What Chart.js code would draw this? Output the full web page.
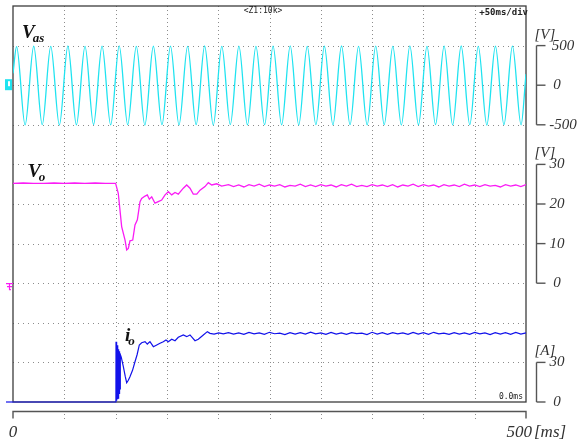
<!DOCTYPE html>
<html>
<head>
<meta charset="utf-8">
<script src="https://cdn.jsdelivr.net/npm/chart.js@4.4.1/dist/chart.umd.min.js"></script>
<style>
  html, body { margin: 0; padding: 0; background: #fff; }
  #scope { display: block; }
</style>
</head>
<body>
<canvas id="scope" width="577" height="441"></canvas>
<script>
// grid: 10 x 10 divisions, 50 ms/div
const xGridTicks = [0, 50, 100, 150, 200, 250, 300, 350, 400, 450, 500];
const divTicks   = [0, 1, 2, 3, 4, 5, 6, 7, 8, 9, 10];

// right-hand bracket scales
const vasTicks = [500, 0, -500];
const voTicks  = [30, 20, 10, 0];
const ioTicks  = [30, 0];

// supply voltage Vas [V] - peaks and troughs of the 60 Hz wave
const vasT = [0,
  3.5, 11.8, 20.2, 28.5, 36.8, 45.2, 53.5, 61.8, 70.2, 78.5,
  86.8, 95.2, 103.5, 111.8, 120.2, 128.5, 136.8, 145.2, 153.5, 161.8,
  170.2, 178.5, 186.8, 195.2, 203.5, 211.8, 220.2, 228.5, 236.8, 245.2,
  253.5, 261.8, 270.2, 278.5, 286.8, 295.2, 303.5, 311.8, 320.2, 328.5,
  336.8, 345.2, 353.5, 361.8, 370.2, 378.5, 386.8, 395.2, 403.5, 411.8,
  420.2, 428.5, 436.8, 445.2, 453.5, 461.8, 470.2, 478.5, 486.8, 495.2,
  500];
const vasV = [150,
  488, -502, 492, -498, 490, -503, 495, -500, 489, -497,
  493, -502, 496, -499, 490, -504, 492, -498, 494, -501,
  489, -499, 495, -503, 491, -497, 494, -502, 490, -499,
  493, -500, 496, -503, 489, -498, 492, -501, 495, -499,
  490, -502, 494, -498, 491, -503, 496, -500, 489, -497,
  493, -501, 495, -499, 490, -503, 492, -498, 494, -500,
  140];

// output voltage Vo [V]
const voPreT = [0, 10, 20, 30, 40, 50, 60, 70, 80, 90, 100];
const voPreV = [25.2, 25.3, 25.2, 25.2, 25.3, 25.2, 25.3, 25.2, 25.3, 25.2, 25.2];
const voDipT = [102.6, 105.9, 109.2, 110.8, 112.4, 114.0, 116.7, 118.9, 121.2, 123.8,
  125.4, 128.7, 130.9, 132.9, 135.2, 138.4, 141.6, 144.9, 148.2, 151.4,
  154.7, 157.9, 161.1, 166.0, 169.3, 172.5, 175.7, 179.1, 182.3, 187.1,
  190.4, 193.7, 198.5, 203.4];
const voDipV = [22.7, 14.3, 10.9, 8.4, 8.8, 10.7, 10.9, 14.7, 16.0, 20.6,
  21.4, 22.0, 22.3, 21.2, 21.8, 20.2, 20.6, 21.0, 22.3, 23.1,
  22.3, 22.9, 22.5, 24.0, 24.8, 24.0, 22.5, 22.5, 23.5, 24.4,
  25.4, 24.8, 25.1, 24.5];

// steady-state sample times shared by Vo and io
const steadyT = [210, 215, 220, 225, 230, 235, 240, 245, 250, 255,
  260, 265, 270, 275, 280, 285, 290, 295, 300, 305,
  310, 315, 320, 325, 330, 335, 340, 345, 350, 355,
  360, 365, 370, 375, 380, 385, 390, 395, 400, 405,
  410, 415, 420, 425, 430, 435, 440, 445, 450, 455,
  460, 465, 470, 475, 480, 485, 490, 495, 500];
const voSteadyV = [24.9, 24.4, 24.8, 24.3, 24.9, 24.5, 25.0, 24.4, 24.8, 24.5,
  24.9, 24.3, 24.7, 24.5, 25.0, 24.4, 24.8, 24.4, 24.9, 24.5,
  24.8, 24.3, 24.9, 24.5, 25.0, 24.4, 24.7, 24.4, 24.9, 24.5,
  24.8, 24.4, 24.9, 24.3, 24.8, 24.5, 25.0, 24.4, 24.9, 24.5,
  24.8, 24.3, 24.9, 24.5, 24.8, 24.4, 25.0, 24.5, 24.8, 24.4,
  24.9, 24.5, 24.7, 24.3, 24.9, 24.5, 24.8, 24.4, 24.9];

// output current io [A]
const ioStepT = [0, 100.3,
  100.4, 100.7, 101.0, 101.3, 101.6, 101.9, 102.2, 102.5, 102.8, 103.1, 103.4, 103.7, 104.0, 104.3, 104.6,
  105.5, 107.5, 109.5, 110.8, 112.4, 114.0, 116.5, 118.9, 121.0, 123.1,
  125.4, 128.7, 130.9, 133.5, 136.8, 140.1, 143.3, 146.5, 149.1, 151.4,
  154.7, 157.9, 161.1, 166.0, 169.3, 172.5, 177.4, 180.6, 185.5, 189.4,
  192.0, 196.0, 200.5, 205.0];
const ioStepV = [0, 0,
  45.7, 1, 44.5, 1, 43, 2, 41.5, 3, 40, 4, 38.5, 6, 37, 10, 36,
  34, 27, 19, 14.6, 16.5, 19.2, 24, 30.5, 36, 43.2,
  44.9, 45.7, 43.9, 45.7, 41.9, 43.2, 44.5, 45.7, 47.0, 45.7,
  47.5, 46.4, 49.0, 50.8, 49.5, 50.8, 46.4, 47.5, 50.8, 53.3,
  52.0, 51.5, 52.4, 51.6];
const ioSteadyV = [52.6, 51.5, 52.3, 51.2, 52.7, 51.6, 52.4, 51.3, 52.8, 51.7,
  52.2, 51.1, 52.6, 51.5, 52.5, 51.4, 52.9, 51.6, 52.3, 51.2,
  52.7, 51.5, 52.4, 51.3, 52.6, 51.8, 52.2, 51.1, 52.8, 51.5,
  52.5, 51.3, 52.6, 51.6, 52.3, 51.2, 52.7, 51.4, 52.5, 51.3,
  52.8, 51.6, 52.2, 51.2, 52.6, 51.5, 52.4, 51.3, 52.7, 51.6,
  52.3, 51.1, 52.6, 51.4, 52.5, 51.3, 52.7, 51.5, 52.4];

const CYAN = '#1fe3f0';
const MAGENTA = '#fa1cf5';
const BLUE = '#1212ea';
const SERIF = '"Liberation Serif", "DejaVu Serif", serif';
const MONO = '"DejaVu Sans Mono", "Liberation Mono", monospace';

function pts(t, v) { return t.map((x, i) => ({ x, y: v[i] })); }

// dotted graticule + screen frame
const graticule = {
  id: 'graticule',
  beforeDatasetsDraw(chart) {
    const { ctx, chartArea: a, scales } = chart;
    const x = scales.x, d = scales.yDiv;
    ctx.save();
    ctx.strokeStyle = '#8c8c8c';
    ctx.lineWidth = 1;
    ctx.setLineDash([1, 3]);
    xGridTicks.slice(1, -1).forEach(t => {
      const px = Math.round(x.getPixelForValue(t)) + 0.5;
      ctx.beginPath(); ctx.moveTo(px, a.top); ctx.lineTo(px, a.bottom); ctx.stroke();
      // short dotted marks on the time axis below
      ctx.beginPath(); ctx.moveTo(px, a.bottom + 12); ctx.lineTo(px, a.bottom + 17); ctx.stroke();
    });
    ctx.setLineDash([1, 4]);
    divTicks.slice(1, -1).forEach(t => {
      const py = Math.round(d.getPixelForValue(t)) + 0.5;
      ctx.beginPath(); ctx.moveTo(a.left, py); ctx.lineTo(a.right, py); ctx.stroke();
    });
    ctx.setLineDash([]);
    ctx.strokeStyle = '#3c3c3c';
    ctx.lineWidth = 1.3;
    ctx.strokeRect(a.left, a.top, a.right - a.left, a.bottom - a.top);
    ctx.restore();
  }
};

function bracket(ctx, scale, ticks, bx, unit, labelX) {
  const y0 = scale.getPixelForValue(ticks[0]);
  const y1 = scale.getPixelForValue(ticks[ticks.length - 1]);
  ctx.strokeStyle = '#555';
  ctx.lineWidth = 1.4;
  ctx.beginPath(); ctx.moveTo(bx, y0); ctx.lineTo(bx, y1); ctx.stroke();
  ctx.fillStyle = '#333';
  ctx.font = 'italic 15px ' + SERIF;
  ctx.textBaseline = 'middle';
  ticks.forEach(t => {
    const py = scale.getPixelForValue(t);
    ctx.beginPath(); ctx.moveTo(bx, py); ctx.lineTo(bx + 9, py); ctx.stroke();
    ctx.textAlign = 'center';
    const s = String(t);
    ctx.fillText(s, labelX + (s.length >= 3 ? 6 : 0), py);
  });
  ctx.textAlign = 'left';
  ctx.textBaseline = 'alphabetic';
  ctx.fillText(unit, bx - 2, y0 - 7);
}

function traceLabel(ctx, main, sub, x, y, size) {
  ctx.fillStyle = '#111';
  ctx.textAlign = 'left';
  ctx.textBaseline = 'alphabetic';
  ctx.font = 'bold italic ' + size + 'px ' + SERIF;
  ctx.fillText(main, x, y);
  const w = ctx.measureText(main).width;
  ctx.font = 'bold italic ' + Math.round(size * 0.68) + 'px ' + SERIF;
  ctx.fillText(sub, x + w - 2, y + 4);
}

const annotations = {
  id: 'annotations',
  afterDraw(chart) {
    const { ctx, chartArea: a, scales } = chart;
    const x = scales.x;
    ctx.save();

    // right-hand scales
    const bx = a.right + 10.5;
    bracket(ctx, scales.yVas, vasTicks, bx, '[V]', 557);
    bracket(ctx, scales.yVo, voTicks, bx, '[V]', 557);
    bracket(ctx, scales.yIo, ioTicks, bx, '[A]', 557);

    // time axis under the screen
    const ay = a.bottom + 9.5;
    const x0 = x.getPixelForValue(0), x1 = x.getPixelForValue(500);
    ctx.strokeStyle = '#555';
    ctx.lineWidth = 1.4;
    ctx.beginPath();
    ctx.moveTo(x0, ay + 7); ctx.lineTo(x0, ay); ctx.lineTo(x1, ay); ctx.lineTo(x1, ay + 7);
    ctx.stroke();
    ctx.fillStyle = '#333';
    ctx.font = 'italic 17px ' + SERIF;
    ctx.textAlign = 'center';
    ctx.fillText('0', x0, a.bottom + 35);
    ctx.textAlign = 'right';
    ctx.fillText('500', x1 + 6, a.bottom + 35);
    ctx.textAlign = 'left';
    ctx.fillText('[ms]', x1 + 8, a.bottom + 35);

    // trace names
    traceLabel(ctx, 'V', 'as', 22, 38, 19);
    traceLabel(ctx, 'V', 'o', 28, 177, 19);
    traceLabel(ctx, 'i', 'o', 125, 341, 19);

    // scope status text
    ctx.fillStyle = '#222';
    ctx.font = '8px ' + MONO;
    ctx.textAlign = 'center';
    ctx.fillText('<Z1:10k>', 263, 13);
    ctx.font = 'bold 9px ' + MONO;
    ctx.textAlign = 'right';
    ctx.fillText('+50ms/div', a.right + 2, 15);
    ctx.font = '8px ' + MONO;
    ctx.fillText('0.0ms', a.right - 3, a.bottom - 3);

    // channel ground markers
    const g1 = scales.yVas.getPixelForValue(0);
    ctx.fillStyle = CYAN;
    ctx.fillRect(5, g1 - 6, 7, 11);
    ctx.fillStyle = '#fff';
    ctx.fillRect(8, g1 - 4, 2, 5);
    const g2 = scales.yVo.getPixelForValue(0);
    ctx.strokeStyle = MAGENTA;
    ctx.lineWidth = 1.2;
    ctx.beginPath();
    ctx.moveTo(6, g2 + 0.5); ctx.lineTo(13, g2 + 0.5);
    ctx.moveTo(7, g2 + 3.5); ctx.lineTo(12, g2 + 3.5);
    ctx.moveTo(9, g2 + 6.5); ctx.lineTo(11, g2 + 6.5);
    ctx.moveTo(9.5, g2); ctx.lineTo(9.5, g2 + 7);
    ctx.stroke();
    const g3 = scales.yIo.getPixelForValue(0);
    ctx.strokeStyle = BLUE;
    ctx.beginPath(); ctx.moveTo(6, g3); ctx.lineTo(13, g3); ctx.stroke();

    ctx.restore();
  }
};

new Chart(document.getElementById('scope'), {
  type: 'line',
  data: {
    datasets: [
      {
        label: 'Vas',
        data: pts(vasT, vasV),
        yAxisID: 'yVas',
        borderColor: CYAN,
        borderWidth: 1.3,
        cubicInterpolationMode: 'monotone',
        pointRadius: 0
      },
      {
        label: 'Vo',
        data: pts([...voPreT, ...voDipT, ...steadyT], [...voPreV, ...voDipV, ...voSteadyV]),
        yAxisID: 'yVo',
        borderColor: MAGENTA,
        borderWidth: 1.3,
        tension: 0,
        pointRadius: 0
      },
      {
        label: 'io',
        data: pts([...ioStepT, ...steadyT], [...ioStepV, ...ioSteadyV]),
        yAxisID: 'yIo',
        borderColor: BLUE,
        borderWidth: 1.2,
        tension: 0,
        pointRadius: 0,
        clip: 4
      }
    ]
  },
  options: {
    responsive: false,
    animation: false,
    devicePixelRatio: 1,
    layout: { padding: { left: 13, right: 51, top: 6, bottom: 39 } },
    plugins: { legend: { display: false }, tooltip: { enabled: false } },
    scales: {
      x: { type: 'linear', min: 0, max: 500, display: false },
      yDiv: { min: 0, max: 10, display: false },
      yVas: { min: -4000, max: 1000, display: false },
      yVo: { min: -30, max: 70, display: false },
      yIo: { min: 0, max: 300, display: false }
    }
  },
  plugins: [graticule, annotations]
});
</script>
</body>
</html>
